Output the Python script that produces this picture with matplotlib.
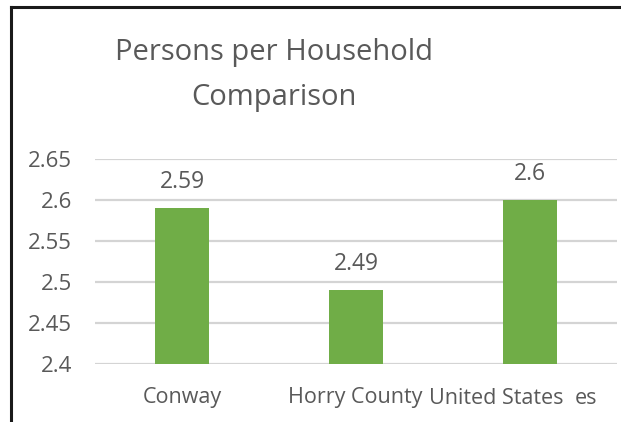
import matplotlib
matplotlib.use("Agg")
import matplotlib.pyplot as plt
from matplotlib.lines import Line2D

categories = ["Conway", "Horry County", "United States"]
values = [2.59, 2.49, 2.6]
y_ticks = [2.4, 2.45, 2.5, 2.55, 2.6, 2.65]
y_tick_labels = ["2.4", "2.45", "2.5", "2.55", "2.6", "2.65"]
value_labels = ["2.59", "2.49", "2.6"]
extra_label = "es"

plt.rcParams['font.family'] = ['Open Sans', 'DejaVu Sans']
TXT = "#595959"

W, H = 621, 422
fig = plt.figure(figsize=(W / 100, H / 100), dpi=100)
ax = fig.add_axes([95 / W, 1 - 364 / H, (617 - 95) / W, (364 - 159) / H])

x = list(range(len(categories)))
ax.bar(x, values, width=0.305, color="#70AD47", zorder=3)
ax.set_xlim(-0.5, 2.5)
ax.set_ylim(2.4, 2.65)
ax.set_yticks(y_ticks)
ax.set_yticklabels(y_tick_labels, fontsize=16, color=TXT)
ax.tick_params(axis='y', length=0, pad=16.5)
ax.set_xticks([])
ax.grid(axis='y', color="#D4D4D4", linewidth=1.6, zorder=0)
for s in ax.spines.values():
    s.set_visible(False)

for xi, v, lab in zip(x, values, value_labels):
    ax.annotate(lab, (xi, v), xytext=(0, 26), textcoords='offset pixels',
                ha='center', va='center', fontsize=16.5, color=TXT)

# category labels
offsets = [0, -1, -34]
for xi, cat, dx in zip(x, categories, offsets):
    ax.annotate(cat, (xi, 0), xycoords=('data', 'axes fraction'),
                xytext=(dx, -34), textcoords='offset pixels',
                ha='center', va='center', fontsize=15.5, color=TXT)
ax.annotate(extra_label, (2, 0), xycoords=('data', 'axes fraction'),
            xytext=(56, -34), textcoords='offset pixels',
            ha='center', va='center', fontsize=15.5, color=TXT)

fig.text(274 / W, 1 - 75 / H, "Persons per Household\nComparison",
         ha='center', va='center', multialignment='center',
         fontsize=21, color=TXT, linespacing=1.7)

# frame (top and left only)
fig.add_artist(Line2D([11 / W, 1], [1 - 7 / H, 1 - 7 / H], color="#1a1a1a", linewidth=2.2))
fig.add_artist(Line2D([11 / W, 11 / W], [0, 1 - 7 / H], color="#1a1a1a", linewidth=2.2))

fig.savefig("out.png", dpi=100)
